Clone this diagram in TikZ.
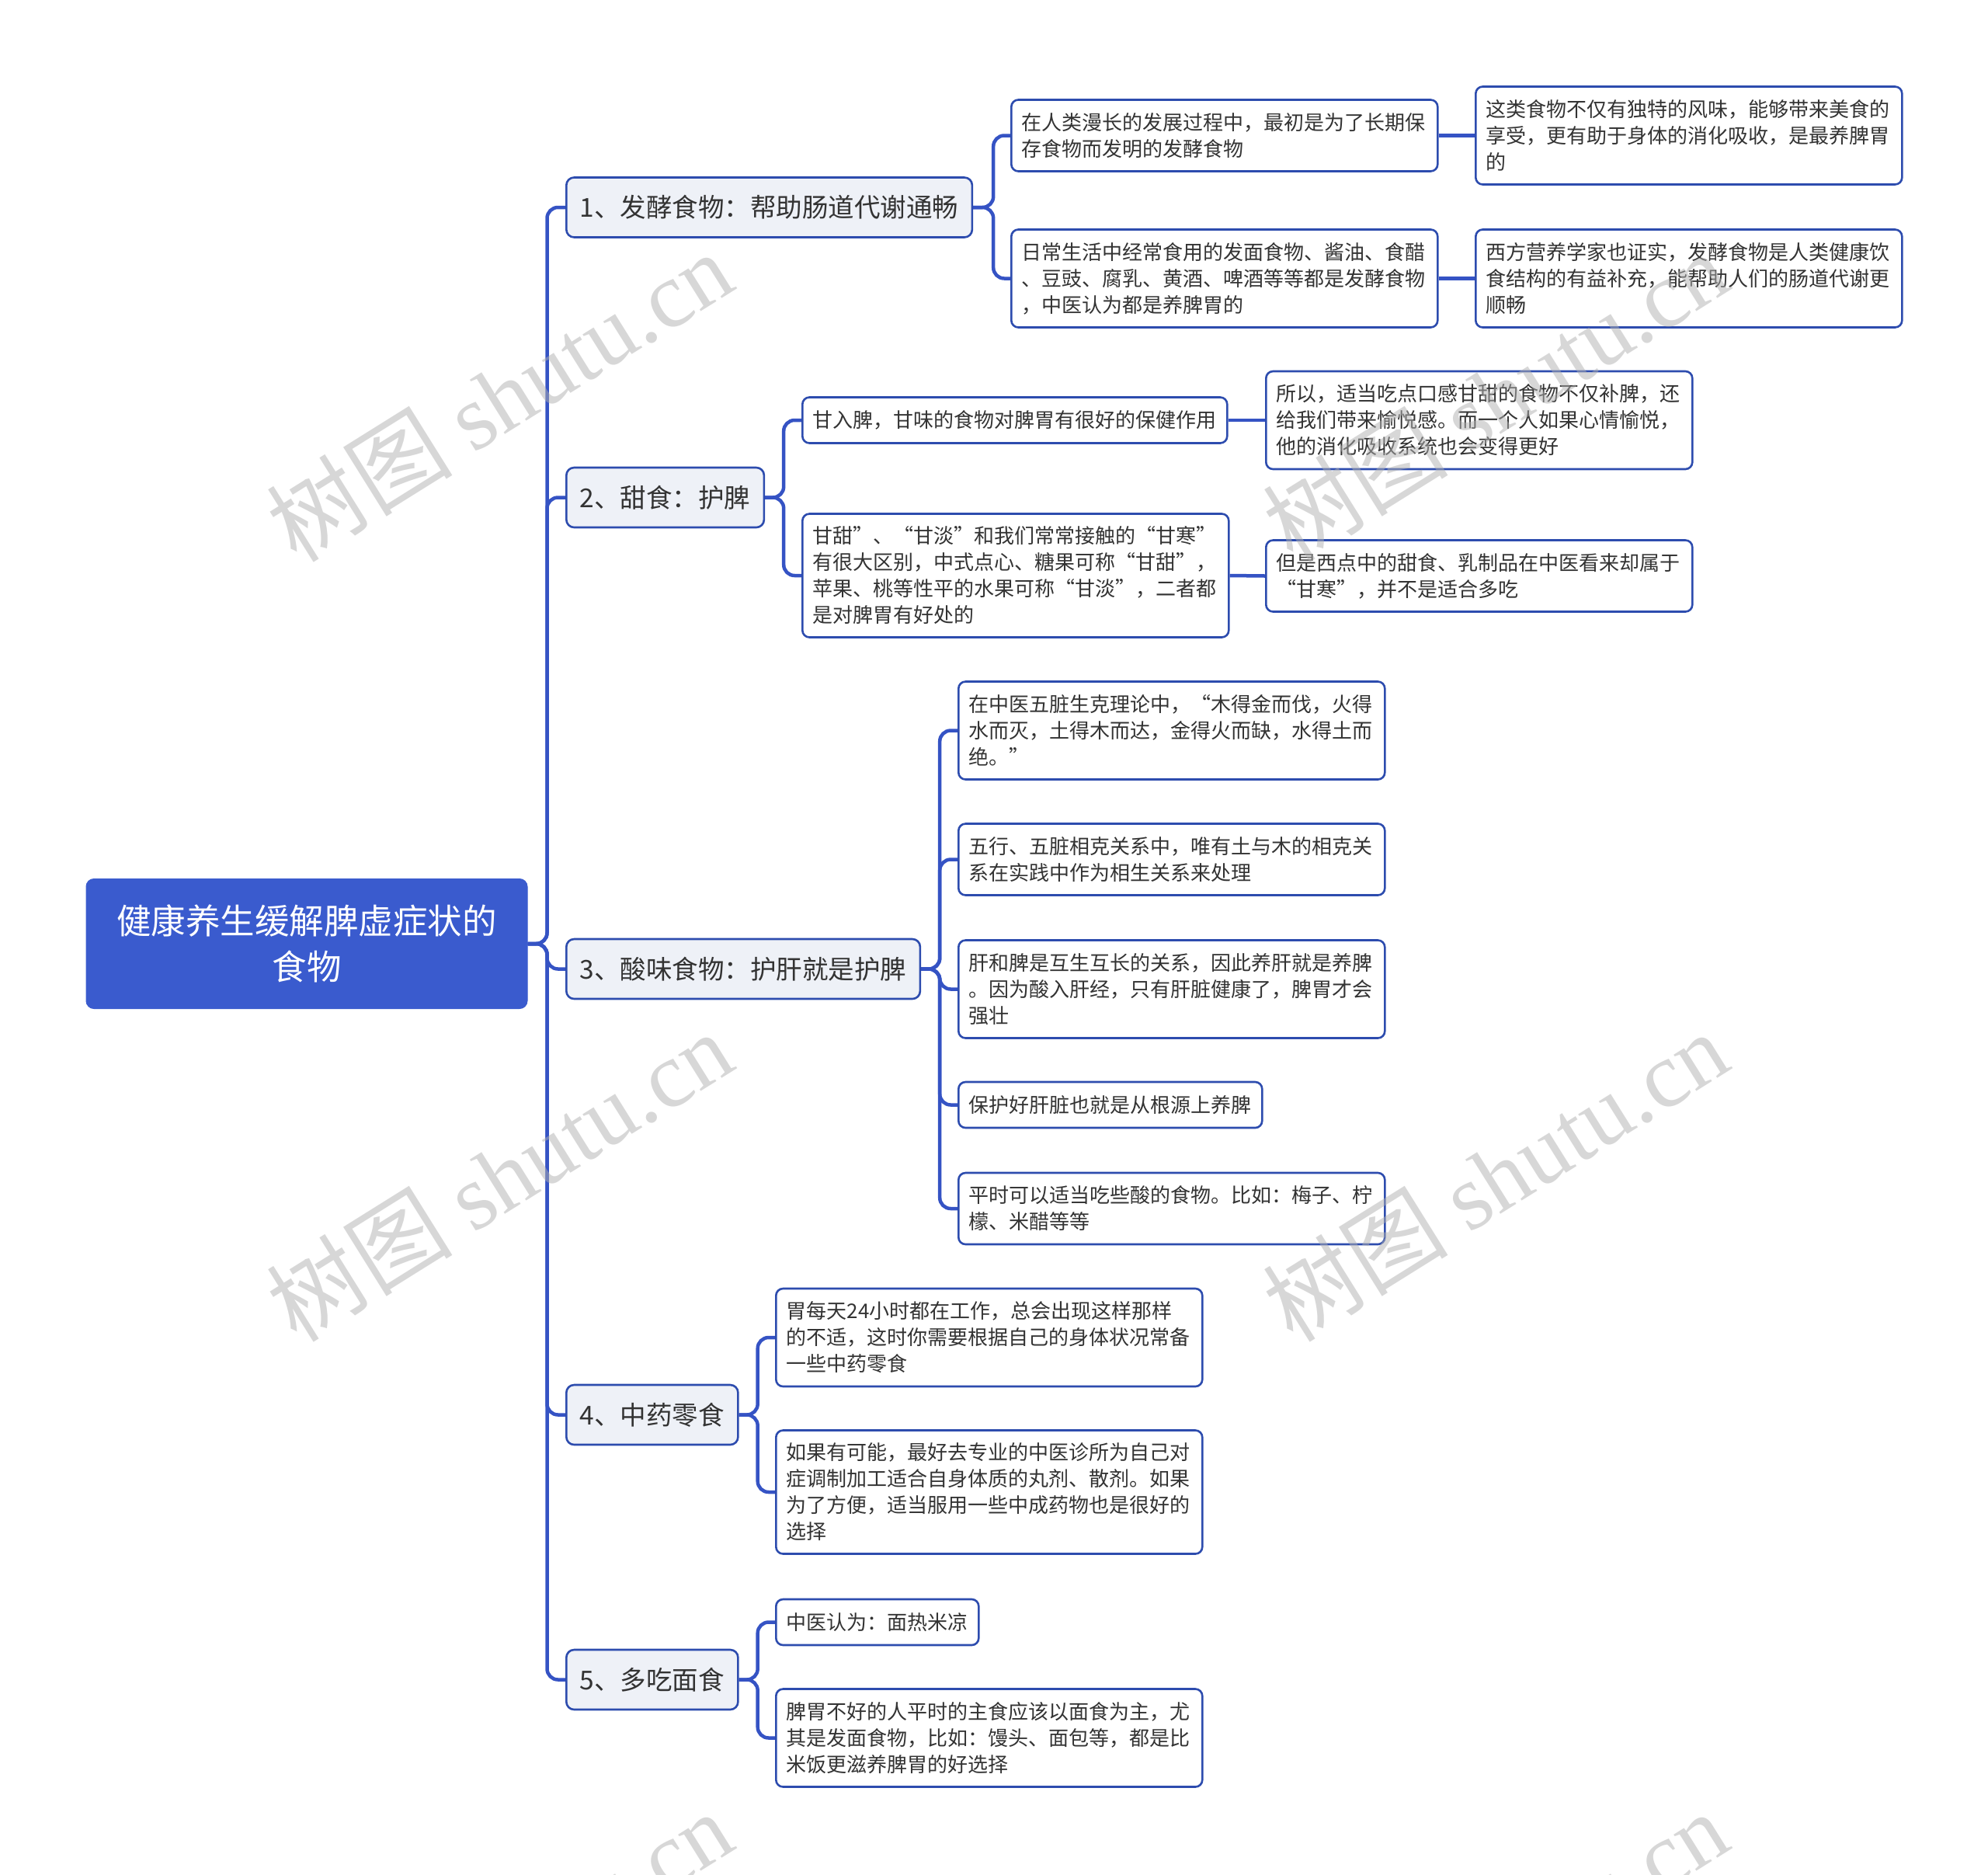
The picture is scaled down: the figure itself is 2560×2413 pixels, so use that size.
\documentclass[tikz,border=0pt]{standalone}
\usepackage{fontspec}
\setmainfont{Noto Sans CJK SC}
\newfontfamily\cjk{Noto Sans CJK SC}
\newfontfamily\wmlatin{Liberation Serif}
\usetikzlibrary{backgrounds}
\definecolor{rootc}{HTML}{3A5BCE}
\definecolor{bordc}{HTML}{2D4CAE}
\definecolor{connc}{HTML}{3553C4}
\definecolor{branchc}{HTML}{EEF1F7}
\definecolor{txtc}{HTML}{333333}
\definecolor{wmc}{HTML}{B0B0B0}
\hbadness=10000 \hfuzz=50pt
\tikzset{
  rootbox/.style={fill=rootc, draw=rootc, line width=1pt, rounded corners=10pt, text=white,
    minimum width=568pt, minimum height=167pt, align=center,
    font=\cjk\fontsize{44.5}{59}\selectfont},
  branchbox/.style={draw=bordc, line width=2.6pt, rounded corners=10pt, fill=branchc, text=txtc,
    font=\cjk\fontsize{33.5}{40}\selectfont, inner xsep=17.5pt, minimum height=77pt, anchor=west},
  leaf/.style={draw=bordc, line width=2.6pt, rounded corners=9pt, fill=white, text=txtc,
    font=\cjk\fontsize{26}{34}\selectfont, inner xsep=13.5pt, inner ysep=5pt, anchor=west, align=left},
  wide/.style={text width=522pt},
  nl/.style={minimum height=#1},
  conn/.style={draw=connc, line width=4.5pt, rounded corners=14pt},
  wm/.style={text=wmc, opacity=0.5, rotate=32, font=\fontsize{120}{124}\selectfont}
}
\begin{document}
\begin{tikzpicture}[x=1pt, y=-1pt]
\useasboundingbox (0,0) rectangle (2560,2413);

% root
\node[rootbox] (root) at (395,1215) {健康养生缓解脾虚症状的\\食物};

% branches
\node[branchbox] (b1) at (728,267) {1、发酵食物：帮助肠道代谢通畅};
\node[branchbox] (b2) at (728,640.5) {2、甜食：护脾};
\node[branchbox] (b3) at (728,1247.5) {3、酸味食物：护肝就是护脾};
\node[branchbox] (b4) at (728,1821.5) {4、中药零食};
\node[branchbox] (b5) at (728,2162.5) {5、多吃面食};

% branch 1
\node[leaf, wide, nl=92pt] (l1a) at (1301,174.5) {在人类漫长的发展过程中，最初是为了长期保\\存食物而发明的发酵食物};
\node[leaf, wide, nl=126pt] (l1b) at (1301,358.5) {日常生活中经常食用的发面食物、酱油、食醋\\、豆豉、腐乳、黄酒、啤酒等等都是发酵食物\\，中医认为都是养脾胃的};
\node[leaf, wide, nl=126pt] (m1a) at (1899,174.5) {这类食物不仅有独特的风味，能够带来美食的\\享受，更有助于身体的消化吸收，是最养脾胃\\的};
\node[leaf, wide, nl=126pt] (m1b) at (1899,358.5) {西方营养学家也证实，发酵食物是人类健康饮\\食结构的有益补充，能帮助人们的肠道代谢更\\顺畅};

% branch 2
\node[leaf, nl=59pt] (l2a) at (1032,541) {甘入脾，甘味的食物对脾胃有很好的保健作用};
\node[leaf, wide, nl=159pt] (l2b) at (1032,741) {甘甜”、“甘淡”和我们常常接触的“甘寒”\\有很大区别，中式点心、糖果可称“甘甜”，\\苹果、桃等性平的水果可称“甘淡”，二者都\\是对脾胃有好处的};
\node[leaf, wide, nl=126pt] (m2a) at (1629,541) {所以，适当吃点口感甘甜的食物不仅补脾，还\\给我们带来愉悦感。而一个人如果心情愉悦，\\他的消化吸收系统也会变得更好};
\node[leaf, wide, nl=92pt] (m2b) at (1629,741.5) {但是西点中的甜食、乳制品在中医看来却属于\\“甘寒”，并不是适合多吃};

% branch 3
\node[leaf, wide, nl=126pt] (l3a) at (1233,940.5) {在中医五脏生克理论中，“木得金而伐，火得\\水而灭，土得木而达，金得火而缺，水得土而\\绝。”};
\node[leaf, wide, nl=92pt] (l3b) at (1233,1106.5) {五行、五脏相克关系中，唯有土与木的相克关\\系在实践中作为相生关系来处理};
\node[leaf, wide, nl=126pt] (l3c) at (1233,1273.5) {肝和脾是互生互长的关系，因此养肝就是养脾\\。因为酸入肝经，只有肝脏健康了，脾胃才会\\强壮};
\node[leaf, nl=59pt] (l3d) at (1233,1422.5) {保护好肝脏也就是从根源上养脾};
\node[leaf, wide, nl=92pt] (l3e) at (1233,1556) {平时可以适当吃些酸的食物。比如：梅子、柠\\檬、米醋等等};

% branch 4
\node[leaf, wide, nl=126pt] (l4a) at (998,1722) {胃每天24小时都在工作，总会出现这样那样\\的不适，这时你需要根据自己的身体状况常备\\一些中药零食};
\node[leaf, wide, nl=159pt] (l4b) at (998,1921) {如果有可能，最好去专业的中医诊所为自己对\\症调制加工适合自身体质的丸剂、散剂。如果\\为了方便，适当服用一些中成药物也是很好的\\选择};

% branch 5
\node[leaf, nl=59pt] (l5a) at (998,2088.5) {中医认为：面热米凉};
\node[leaf, wide, nl=126pt] (l5b) at (998,2237.5) {脾胃不好的人平时的主食应该以面食为主，尤\\其是发面食物，比如：馒头、面包等，都是比\\米饭更滋养脾胃的好选择};

\begin{scope}[on background layer]
  \foreach \b in {b1,b2,b3,b4,b5}
    \draw[conn] (root.east) -- ++(25,0) |- (\b.west);
  \foreach \c in {l1a,l1b}
    \draw[conn] (b1.east) -- ++(26,0) |- (\c.west);
  \foreach \c in {l2a,l2b}
    \draw[conn] (b2.east) -- ++(24,0) |- (\c.west);
  \foreach \c in {l3a,l3b,l3c,l3d,l3e}
    \draw[conn] (b3.east) -- ++(24,0) |- (\c.west);
  \foreach \c in {l4a,l4b}
    \draw[conn] (b4.east) -- ++(24,0) |- (\c.west);
  \foreach \c in {l5a,l5b}
    \draw[conn] (b5.east) -- ++(24,0) |- (\c.west);
  \draw[conn] (l1a.east) -- (m1a.west);
  \draw[conn] (l1b.east) -- (m1b.west);
  \draw[conn] (l2a.east) -- (m2a.west);
  \draw[conn] (l2b.east) -- (m2b.west);
\end{scope}

% watermarks
\foreach \wx in {643,1925}
  \foreach \wy in {510,1514,2518}
    \node[wm] (wm-\wx-\wy) at (\wx,\wy) {{\cjk 树图} {\wmlatin shutu.cn}};
\end{tikzpicture}
\end{document}
